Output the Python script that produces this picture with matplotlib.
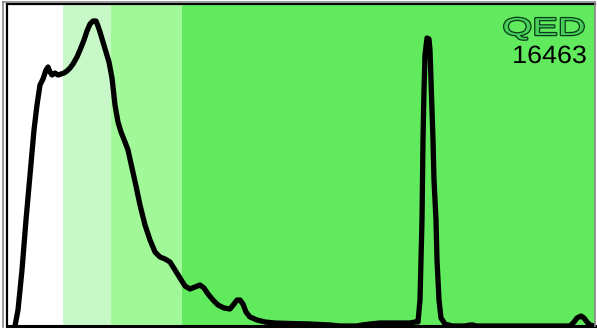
import numpy as np
import matplotlib
matplotlib.use("Agg")
import matplotlib.pyplot as plt
from matplotlib.patheffects import AbstractPathEffect
from matplotlib.transforms import Affine2D
from matplotlib.lines import Line2D

# Distribution curve as (score position on a 0..588 scale, density height)
curve = [
    (8, 0), (11, 16), (15, 56), (19, 106), (23, 151), (27, 196), (30, 221),
    (33, 241), (36, 247), (39, 256), (41, 259), (43, 254), (45, 251), (48, 253),
    (51, 251), (54, 252), (57, 253), (60, 255), (63, 258), (66, 262), (70, 269),
    (73, 276), (77, 286), (80, 295), (83, 302), (86, 305), (89, 305), (91, 300),
    (93, 294), (96, 284), (99, 274), (102, 264), (105, 248), (108, 221),
    (111, 204), (114, 194), (118, 184), (121, 176), (125, 158), (129, 140),
    (133, 121), (138, 101), (143, 86), (148, 74), (153, 69), (158, 67),
    (163, 64), (168, 56), (173, 48), (178, 40), (183, 37), (188, 39), (193, 41),
    (197, 38), (201, 32), (206, 26), (211, 21), (217, 18), (223, 17), (227, 22),
    (230, 26), (233, 26), (236, 22), (239, 14), (243, 9), (250, 6), (258, 4),
    (268, 3), (283, 2.5), (303, 2), (323, 1), (333, 0), (343, 0), (350, 0),
    (355, 1), (363, 2), (373, 3), (388, 3), (403, 3), (408, 4), (411, 4),
    (413, 26), (414, 66), (415, 106), (416, 186), (417, 236), (418, 271),
    (420, 288), (422, 287), (423, 276), (424, 246), (426, 186), (427, 146),
    (429, 106), (430, 66), (432, 26), (434, 8), (438, 2), (445, 0), (458, 0),
    (463, 1), (466, 1), (469, 0), (513, 0), (563, 0), (567, 4), (570, 8),
    (574, 10), (577, 8), (580, 4), (583, 1), (588, 0),
]
score = [p[0] for p in curve]
density = [p[1] for p in curve]

# Shaded score bands
band_edges = [0, 56, 104, 175, 588]
band_colors = ["#ffffff", "#c8f8c8", "#a0f898", "#62ea5e"]

title = "QED"
count = "16463"


class Widen(AbstractPathEffect):
    """Stretch text horizontally about a fixed x (display px), optionally stroked."""

    def __init__(self, sx, x0, stroke=None, lw=0.0):
        super().__init__()
        self.sx, self.x0, self.stroke, self.lw = sx, x0, stroke, lw

    def draw_path(self, renderer, gc, tpath, affine, rgbFace=None):
        t = affine + Affine2D().translate(-self.x0, 0).scale(self.sx, 1).translate(self.x0, 0)
        if self.stroke is None:
            renderer.draw_path(gc, tpath, t, rgbFace)
        else:
            gc0 = renderer.new_gc()
            gc0.copy_properties(gc)
            gc0.set_foreground(self.stroke)
            gc0.set_linewidth(self.lw)
            renderer.draw_path(gc0, tpath, t, rgbFace)
            gc0.restore()


W, H = 597, 329
fig = plt.figure(figsize=(W / 100, H / 100), dpi=100)
ax = fig.add_axes([7 / W, 3 / H, 588 / W, 322 / H])

for lo, hi, c in zip(band_edges[:-1], band_edges[1:], band_colors):
    ax.axvspan(lo, hi, color=c, lw=0, zorder=0)

ax.plot(score, density, color="black", lw=3.8, solid_joinstyle="round",
        solid_capstyle="round", zorder=3)

ax.set_xlim(0, 588)
ax.set_ylim(0, 322)
ax.set_xticks([])
ax.set_yticks([])
for side in ["left", "top"]:
    ax.spines[side].set_linewidth(1.6)
    ax.spines[side].set_color("black")
ax.spines["bottom"].set_linewidth(2.2)
ax.spines["right"].set_visible(False)

# Outer grey frame
fig.add_artist(Line2D([3 / W, 3 / W], [2 / H, 1 - 1.5 / H], color="#888888", lw=1.2))
fig.add_artist(Line2D([3 / W, 595 / W], [1 - 1.5 / H, 1 - 1.5 / H], color="#888888", lw=1.2))
fig.add_artist(Line2D([595 / W, 595 / W], [3 / H, 1 - 1.5 / H], color="#888888", lw=1.2))

qx, qy = 585, 294
fig.text(qx / W, qy / H, title, ha="right", va="baseline", fontsize=17.6,
         family="Liberation Sans", color="#46cf58", zorder=5,
         path_effects=[Widen(1.57, qx, stroke="#0a3a1a", lw=1.8), Widen(1.57, qx)])
cx, cy = 587, 266
fig.text(cx / W, cy / H, count, ha="right", va="baseline", fontsize=18,
         family="Liberation Sans", color="black", zorder=5,
         path_effects=[Widen(1.075, cx)])

fig.savefig("out.png", dpi=100)
